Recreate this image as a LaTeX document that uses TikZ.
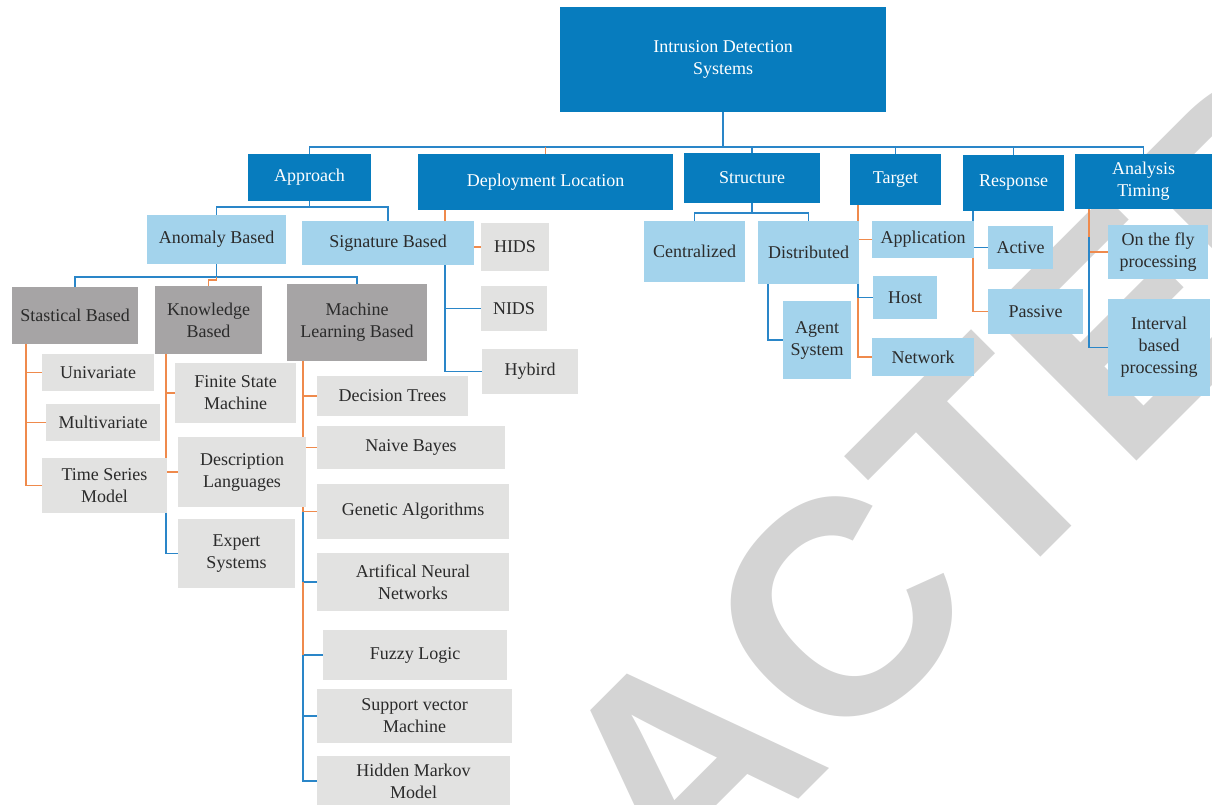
\documentclass[tikz,border=0pt]{standalone}
\usepackage{fontspec}
\setmainfont{Liberation Serif}
\newfontfamily\wmfont{Liberation Sans}
\usetikzlibrary{backgrounds}

\definecolor{dkblue}{HTML}{077CBE}
\definecolor{ltblue}{HTML}{A3D3EC}
\definecolor{dkgrey}{HTML}{A6A4A5}
\definecolor{ltgrey}{HTML}{E2E2E1}
\definecolor{lineblue}{HTML}{2A86C8}
\definecolor{lineorange}{HTML}{EF8A4C}
\definecolor{txt}{HTML}{2B2B2B}
\definecolor{wm}{HTML}{D4D4D4}

\tikzset{
  box/.style={inner sep=0pt, outer sep=0pt, align=center,
    font=\fontsize{18}{22}\selectfont, text=txt},
  toplevel/.style={box, fill=dkblue, text=white},
  catbox/.style={box, fill=ltblue},
  methbox/.style={box, fill=dkgrey},
  leafbox/.style={box, fill=ltgrey},
  bl/.style={draw=lineblue, line width=1.6pt},
  og/.style={draw=lineorange, line width=1.6pt},
}

% \tbox{style}{name}{x1}{y1}{x2}{y2}{text}: box between two corners
\newcommand\tbox[7]{\node[#1, minimum width={#5-#3}, minimum height={#6-#4}]
  (#2) at ({(#3+#5)/2},{(#4+#6)/2}) {#7};}

\begin{document}
\begin{tikzpicture}[x=1pt, y=-1pt]
\useasboundingbox (0,0) rectangle (1212,805);

% ---------- boxes ----------
\tbox{toplevel}{root}{560}{7}{886}{112}{Intrusion Detection\\Systems}

\tbox{toplevel}{approach}{248}{154}{371}{201}{Approach}
\tbox{toplevel}{deploy}{418}{154}{673}{210}{Deployment Location}
\tbox{toplevel}{structure}{684}{153}{820}{203}{Structure}
\tbox{toplevel}{target}{850}{154}{941}{205}{Target}
\tbox{toplevel}{response}{963}{155}{1064}{211}{Response}
\tbox{toplevel}{atime}{1075}{154}{1212}{209}{Analysis\\Timing}

\tbox{catbox}{anomaly}{147}{215}{286}{264}{Anomaly Based}
\tbox{catbox}{signature}{302}{221}{474}{265}{Signature Based}

\tbox{methbox}{stat}{12}{287}{138}{344}{Stastical Based}
\tbox{methbox}{knowledge}{155}{286}{262}{354}{Knowledge\\Based}
\tbox{methbox}{ml}{287}{284}{427}{361}{Machine\\Learning Based}

\tbox{leafbox}{univ}{42}{354}{154}{391}{Univariate}
\tbox{leafbox}{multi}{46}{404}{160}{441}{Multivariate}
\tbox{leafbox}{tsm}{42}{458}{167}{513}{Time Series\\Model}

\tbox{leafbox}{fsm}{175}{363}{296}{423}{Finite State\\Machine}
\tbox{leafbox}{desc}{178}{437}{306}{507}{Description\\Languages}
\tbox{leafbox}{expert}{178}{519}{295}{588}{Expert\\Systems}

\tbox{leafbox}{dt}{317}{376}{468}{416}{Decision Trees}
\tbox{leafbox}{nb}{317}{426}{505}{469}{Naive Bayes}
\tbox{leafbox}{ga}{317}{484}{509}{539}{Genetic Algorithms}
\tbox{leafbox}{ann}{317}{553}{509}{611}{Artifical Neural\\Networks}
\tbox{leafbox}{fuzzy}{323}{630}{507}{680}{Fuzzy Logic}
\tbox{leafbox}{svm}{317}{689}{512}{743}{Support vector\\Machine}
\tbox{leafbox}{hmm}{317}{756}{510}{806}{Hidden Markov\\Model}

\tbox{leafbox}{hids}{481}{223}{549}{271}{HIDS}
\tbox{leafbox}{nids}{481}{286}{547}{331}{NIDS}
\tbox{leafbox}{hybird}{482}{349}{578}{394}{Hybird}

\tbox{catbox}{central}{644}{221}{745}{282}{Centralized}
\tbox{catbox}{distrib}{758}{221}{859}{284}{Distributed}
\tbox{catbox}{agent}{783}{301}{851}{379}{Agent\\System}

\tbox{catbox}{app}{872}{221}{974}{258}{Application}
\tbox{catbox}{host}{873}{276}{937}{319}{Host}
\tbox{catbox}{network}{872}{338}{974}{376}{Network}

\tbox{catbox}{active}{988}{226}{1053}{269}{Active}
\tbox{catbox}{passive}{988}{289}{1083}{334}{Passive}

\tbox{catbox}{onfly}{1108}{225}{1208}{279}{On the fly\\processing}
\tbox{catbox}{interval}{1108}{299}{1210}{396}{Interval\\based\\processing}

\begin{pgfonlayer}{background}
% ---------- watermark ----------
\begin{scope}
  \clip (0,0) rectangle (1212,805);
  \node[rotate=45, anchor=base west, inner sep=0pt, text=wm,
        font=\wmfont\bfseries\fontsize{305}{305}\selectfont]
        (stamp) at (92,1506) {RETRACTED};
\end{scope}

% ---------- connectors ----------
\coordinate (bus) at (0,147);
\draw[bl] (root.south) -- (root.south |- bus);
\draw[bl] (approach.north) |- (atime.north |- bus) -- (atime.north);
\draw[og] (deploy.north) -- (deploy.north |- bus);
\draw[bl] (structure.north) -- (structure.north |- bus);
\draw[bl] (target.north) -- (target.north |- bus);
\draw[bl] (response.north) -- (response.north |- bus);

% Approach
\draw[bl] (approach.south) -- (approach.south |- 0,207);
\draw[bl] (anomaly.north) |- (signature.north |- 0,207) -- (signature.north);

% Anomaly based
\draw[bl] (anomaly.south) -- (anomaly.south |- 0,277);
\draw[bl] (stat.north) |- (ml.north |- 0,277) -- (ml.north);
\draw[og] (anomaly.south |- 0,277) -- (anomaly.south |- 0,280) -| (knowledge.north);

% Statistical
\coordinate (sx) at ([xshift=14pt]stat.south west);
\draw[og] (sx) |- (tsm.west);
\draw[og] (sx) |- (univ.west);
\draw[og] (sx) |- (multi.west);

% Knowledge
\coordinate (kx) at ([xshift=11pt]knowledge.south west);
\draw[og] (kx) |- (fsm.west);
\draw[og] (kx) |- (desc.west);
\draw[bl] (desc.west -| kx) |- (expert.west);

% Machine learning
\coordinate (mx) at ([xshift=16pt]ml.south west);
\draw[og] (mx) |- (dt.west);
\draw[og] (mx) |- (nb.west);
\draw[og] (mx) |- (ga.west);
\draw[bl] (ga.west -| mx) |- (ann.west);
\draw[bl] (fuzzy.west -| mx) |- (hmm.west);
\draw[bl] (fuzzy.west -| mx) -- (fuzzy.west);
\draw[bl] (svm.west -| mx) -- (svm.west);
\draw[og] (ann.west -| mx) -- (fuzzy.west -| mx);

% Deployment location
\coordinate (dx) at ([xshift=27pt]deploy.south west);
\draw[og] (dx) |- (hids.west);
\draw[bl] (hids.west -| dx) |- (hybird.west);
\draw[bl] (nids.west -| dx) -- (nids.west);

% Structure
\draw[bl] (structure.south) -- (structure.south |- 0,213);
\draw[bl] (central.north) |- (distrib.north |- 0,213) -- (distrib.north);
\draw[bl] ([xshift=10pt]distrib.south west) |- (agent.west);

% Target
\coordinate (tx) at ([xshift=8pt]target.south west);
\draw[og] (tx) |- (network.west);
\draw[og] (tx) |- (app.west);
\draw[bl] (tx |- distrib.south) |- (host.west);

% Response
\coordinate (rx) at ([xshift=10pt]response.south west);
\draw[og] (active.west -| rx) |- (passive.west);
\draw[bl] (rx) |- (active.west);

% Analysis timing
\coordinate (ax) at ([xshift=14pt]atime.south west);
\draw[og] (ax) |- (onfly.west);
\draw[bl] ([yshift=-28pt]ax) |- (interval.west);
\end{pgfonlayer}
\end{tikzpicture}
\end{document}
